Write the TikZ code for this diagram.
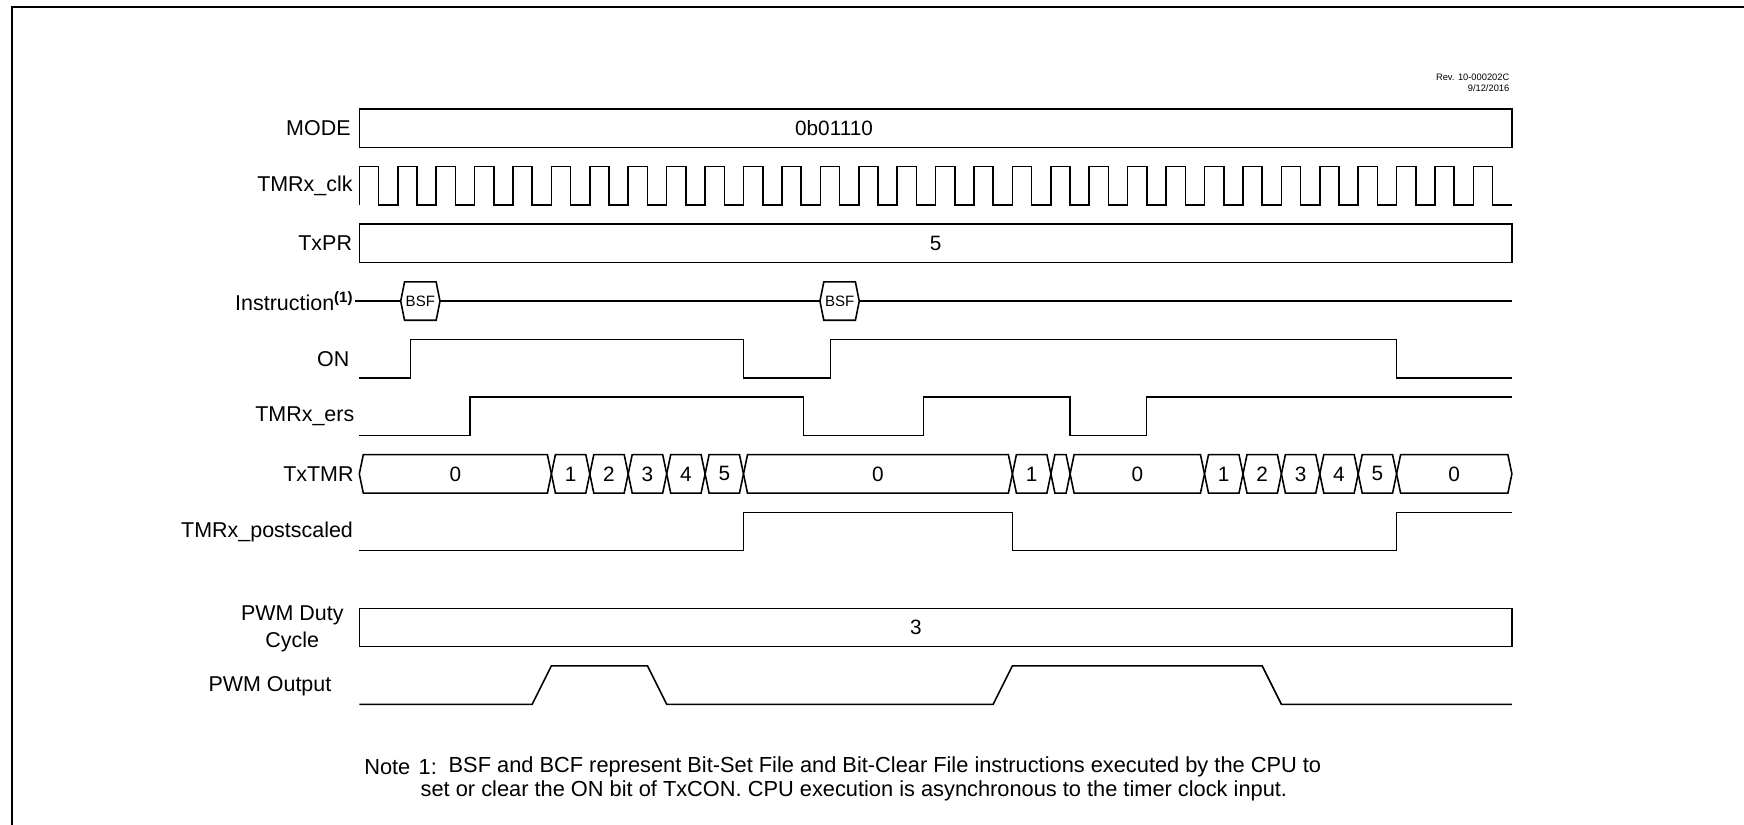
\documentclass[tikz,border=0pt]{standalone}
\usepackage{fontspec}
\setmainfont{Liberation Sans}
\newcommand{\lblfont}{\fontsize{6.1}{7.4}\selectfont}
\newcommand{\valfont}{\fontsize{5.9}{7}\selectfont}
\newcommand{\bsffont}{\fontsize{4.27}{5}\selectfont}
\newcommand{\notefont}{\fontsize{6.2}{7.5}\selectfont}
\newcommand{\revfont}{\fontsize{2.65}{3.1}\selectfont}
\newcommand{\busd}{4}
% one value of the TxTMR bus: name, from x, to x, value
\newcommand{\busseg}[4]{%
  \draw[wave] (#2,473.9) -- (#2+\busd,454.7) -- (#3-\busd,454.7) -- (#3,473.9)
    -- (#3-\busd,493.1) -- (#2+\busd,493.1) -- cycle;
  \node[val] (#1) at ({(#2+#3)/2},473.9) {#4};}
% one instruction on the instruction line: name, centre x
\newcommand{\instr}[2]{%
  \draw[wave] (#2-19.65,301.1) -- (#2-15.8,281.9) -- (#2+15.8,281.9) -- (#2+19.65,301.1)
    -- (#2+15.8,320.3) -- (#2-15.8,320.3) -- cycle;
  \node[bsf] (#1) at (#2,301.1) {BSF};}

\tikzset{
  wave/.style={line width=0.45pt, line join=miter},
  lbl/.style={anchor=east, inner sep=0pt, font=\lblfont},
  val/.style={inner sep=0pt, font=\valfont},
  bsf/.style={inner sep=0pt, font=\bsffont},
  note/.style={anchor=west, inner sep=0pt, font=\notefont},
}

\begin{document}
\begin{tikzpicture}[x=0.01cm, y=-0.01cm]
      \useasboundingbox (0,0) rectangle (1744,825);
      % frame
        \draw[line width=0.6pt] (11.7,825) -- (11.7,6.7) -- (1744,6.7);

        \node (rev) at (1510,83) [anchor=east, inner sep=0pt, font=\revfont, align=right] {Rev. 10-000202C\\9/12/2016};

      % labels
        \node (modelbl) at (351.3,128.3) [lbl] {MODE};
        \node (clklbl) at (353.3,185.9) [lbl] {TMRx\_clk};
        \node (prlbl) at (352.7,243.5) [lbl] {TxPR};
        \node (instrlbl) at (355,301.1) [lbl] {Instruction\textsuperscript{\bfseries(1)}};
        \node (onlbl) at (350,358.7) [lbl] {ON};
        \node (erslbl) at (355,416.3) [lbl] {TMRx\_ers};
        \node (tmrlbl) at (354.3,473.9) [lbl] {TxTMR};
        \node (postlbl) at (353.6,531.5) [lbl] {TMRx\_postscaled};
        \node (dutylbl) at (292.3,615) [inner sep=0pt, font=\lblfont] {PWM Duty};
        \node (cyclbl) at (292.3,641.7) [inner sep=0pt, font=\lblfont] {Cycle};
        \node (pwmlbl) at (332,686.7) [lbl] {PWM Output};

      % MODE, TxPR and duty cycle
        \draw[wave] (359.3,109.1) rectangle (1511.9,147.5);
        \node (modeval) at (834,128.3) [val] {0b01110};
        \draw[wave] (359.3,224.3) rectangle (1511.9,262.7);
        \node (prval) at (935.6,243.5) [val] {5};
        \draw[wave] (359.3,608.3) rectangle (1511.9,646.7);
        \node (dutyval) at (916,627.5) [val] {3};

      % clock
        \draw[wave] (359.3,205.1) \foreach \k in {0,...,29} { -- ++(0,-38.4) -- ++(19.21,0) -- ++(0,38.4) -- ++(19.21,0) };

      % instruction
        \draw[wave] (instrlbl.east) -- (400.7,301.1);
        \draw[wave] (440,301.1) -- (819.95,301.1);
        \draw[wave] (859.25,301.1) -- (1511.9,301.1);
        \instr{bsf1}{420.35}
        \instr{bsf2}{839.6}

      % ON and TMRx_ers
        \draw[wave] (359.3,377.9) -- (410.7,377.9) -- (410.7,339.5) -- (743.3,339.5) -- (743.3,377.9)
          -- (830.3,377.9) -- (830.3,339.5) -- (1396.6,339.5) -- (1396.6,377.9) -- (1511.9,377.9);
        \draw[wave] (359.3,435.5) -- (470,435.5) -- (470,397.1) -- (803.3,397.1) -- (803.3,435.5)
          -- (923.3,435.5) -- (923.3,397.1) -- (1070.1,397.1) -- (1070.1,435.5) -- (1146.7,435.5)
          -- (1146.7,397.1) -- (1511.9,397.1);

      % TxTMR
        \busseg{c0}{359.3}{551.4}{0}
        \busseg{c1}{551.4}{589.8}{1}
        \busseg{c2}{589.8}{628.2}{2}
        \busseg{c3}{628.2}{666.7}{3}
        \busseg{c4}{666.7}{705.1}{4}
        \busseg{c5}{705.1}{743.5}{5}
        \busseg{d0}{743.5}{1012.4}{0}
        \busseg{d1}{1012.4}{1050.9}{1}
        \busseg{dx}{1050.9}{1070.1}{}
        \busseg{e0}{1070.1}{1204.5}{0}
        \busseg{e1}{1204.5}{1243.0}{1}
        \busseg{e2}{1243.0}{1281.4}{2}
        \busseg{e3}{1281.4}{1319.8}{3}
        \busseg{e4}{1319.8}{1358.2}{4}
        \busseg{e5}{1358.2}{1396.6}{5}
        \busseg{f0}{1396.6}{1511.9}{0}

      % postscaled and PWM output
        \draw[wave] (359.3,550.7) -- (743.5,550.7) -- (743.5,512.3) -- (1012.4,512.3) -- (1012.4,550.7)
          -- (1396.6,550.7) -- (1396.6,512.3) -- (1511.9,512.3);
        \draw[wave] (359.3,704.3) -- (532.2,704.3) -- (551.4,665.9) -- (647.5,665.9) -- (666.7,704.3)
          -- (993.2,704.3) -- (1012.4,665.9) -- (1262.2,665.9) -- (1281.4,704.3) -- (1511.9,704.3);

      % note
        \node (notehd) at (363.6,767) [note] {Note};
        \node (notenum) at (418,767) [note] {1:};
        \node (note1) at (448,767) [note] {BSF and BCF represent Bit-Set File and Bit-Clear File instructions executed by the CPU to};
        \node (note2) at (420,791) [note] {set or clear the ON bit of TxCON. CPU execution is asynchronous to the timer clock input.};
    \end{tikzpicture}
\end{document}
